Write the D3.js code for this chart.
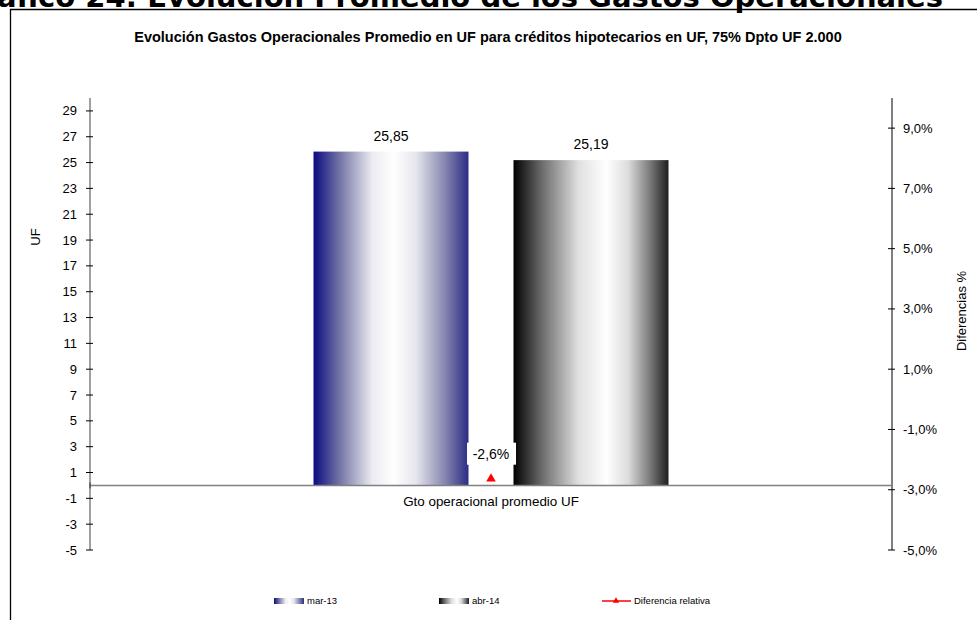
<!DOCTYPE html>
<html>
<head>
<meta charset="utf-8">
<script src="https://cdn.jsdelivr.net/npm/d3@7"></script>
<style>
    html, body { margin: 0; padding: 0; background: #fff; }
    svg { display: block; font-family: "Liberation Sans", Arial, sans-serif; }
</style>
</head>
<body>
<svg id="chart" width="977" height="620"></svg>
<script>
'use strict';

/* global d3 */

var HEADER = "Gráfico 24: Evolución Promedio de los Gastos Operacionales";
var TITLE = "Evolución Gastos Operacionales Promedio en UF para créditos hipotecarios en UF, 75% Dpto UF 2.000";

var CATEGORIES = ["Gto operacional promedio UF"];
var SERIES = ["mar-13", "abr-14"];
var VALUES = [25.85, 25.19];
var DIFF_NAME = "Diferencia relativa";
var DIFF_VALUES = [-2.6];

var LEFT_TICKS = [-5, -3, -1, 1, 3, 5, 7, 9, 11, 13, 15, 17, 19, 21, 23, 25, 27, 29];
var RIGHT_TICKS = [-5, -3, -1, 1, 3, 5, 7, 9];

var svg = d3.select("#chart");

var plot = {left: 90, right: 892, top: 98, bottom: 550};

var locale = d3.formatLocale({decimal: ",", thousands: ".", grouping: [3], currency: ["$", ""], minus: "-"});
var fmtValue = locale.format(".2f");
var fmtPct = locale.format(".1f");

var yLeft = d3.scaleLinear().domain([-5, 30]).range([plot.bottom, plot.top]);
var yRight = d3.scaleLinear().domain([-5, 10]).range([plot.bottom, plot.top]);

var x0 = d3.scaleBand().domain(CATEGORIES).range([plot.left, plot.right]);
var x1 = d3.scaleBand().domain(SERIES).range([0, x0.bandwidth()])
    .paddingInner(0.225).paddingOuter(1.1175);

// gradients, like the excel "center" fill
var defs = svg.append("defs");
var GRADIENTS = [
    {id: "grad0", stops: [["0%", "#0b0b80"], ["18%", "#7a7aa8"], ["38%", "#ececf2"], ["52%", "#ffffff"], ["66%", "#e6e6ee"], ["84%", "#8a8ab2"], ["100%", "#2c2c84"]]},
    {id: "grad1", stops: [["0%", "#000000"], ["18%", "#6a6a6a"], ["42%", "#e0e0e0"], ["60%", "#ffffff"], ["74%", "#dcdcdc"], ["88%", "#7a7a7a"], ["100%", "#1e1e1e"]]}
];
GRADIENTS.forEach(function (g) {
    var lg = defs.append("linearGradient").attr("id", g.id)
        .attr("x1", "0%").attr("x2", "100%").attr("y1", "0%").attr("y2", "0%");
    g.stops.forEach(function (s) {
        lg.append("stop").attr("offset", s[0]).attr("stop-color", s[1]);
    });
});

// header cut off at the top of the page (as in the source)
svg.append("text")
    .attr("x", 943).attr("y", 7)
    .attr("text-anchor", "end")
    .style("font-family", "'DejaVu Sans', Verdana, sans-serif")
    .style("font-weight", "bold")
    .style("font-size", "29px")
    .text(HEADER);

// chart frame
svg.append("path")
    .attr("d", "M10.5,620 L10.5,9.5 L977,9.5")
    .attr("fill", "none")
    .attr("stroke", "#000")
    .attr("stroke-width", 1.3);

svg.append("text")
    .attr("x", 488).attr("y", 42)
    .attr("text-anchor", "middle")
    .style("font-weight", "bold")
    .style("font-size", "14.5px")
    .text(TITLE);

// bars
var bars = svg.append("g").attr("class", "bars");
CATEGORIES.forEach(function (cat) {
    SERIES.forEach(function (s, i) {
        var bx = x0(cat) + x1(s);
        bars.append("rect")
            .attr("x", bx)
            .attr("y", yLeft(VALUES[i]))
            .attr("width", x1.bandwidth())
            .attr("height", yLeft(0) - yLeft(VALUES[i]))
            .attr("fill", "url(#" + GRADIENTS[i].id + ")");
        bars.append("text")
            .attr("x", bx + x1.bandwidth() / 2)
            .attr("y", yLeft(VALUES[i]) - 11)
            .attr("text-anchor", "middle")
            .style("font-size", "14px")
            .text(fmtValue(VALUES[i]));
    });
});

// left axis
var gLeft = svg.append("g").attr("class", "axis-left");
gLeft.append("line")
    .attr("x1", plot.left).attr("x2", plot.left)
    .attr("y1", plot.top).attr("y2", plot.bottom)
    .attr("stroke", "#808080").attr("stroke-width", 1.5);
gLeft.selectAll("line.tick").data(LEFT_TICKS).enter()
    .append("line").attr("class", "tick")
    .attr("x1", plot.left - 4).attr("x2", plot.left + 3)
    .attr("y1", function (d) { return yLeft(d); })
    .attr("y2", function (d) { return yLeft(d); })
    .attr("stroke", "#000");
gLeft.selectAll("text").data(LEFT_TICKS).enter()
    .append("text")
    .attr("x", 77)
    .attr("y", function (d) { return yLeft(d); })
    .attr("dy", "0.35em")
    .attr("text-anchor", "end")
    .style("font-size", "13px")
    .text(function (d) { return locale.format("d")(d); });

// right axis
var gRight = svg.append("g").attr("class", "axis-right");
gRight.append("line")
    .attr("x1", plot.right).attr("x2", plot.right)
    .attr("y1", plot.top).attr("y2", plot.bottom)
    .attr("stroke", "#000").attr("stroke-width", 1);
gRight.selectAll("line.tick").data(RIGHT_TICKS).enter()
    .append("line").attr("class", "tick")
    .attr("x1", plot.right - 4).attr("x2", plot.right + 3)
    .attr("y1", function (d) { return yRight(d); })
    .attr("y2", function (d) { return yRight(d); })
    .attr("stroke", "#000");
gRight.selectAll("text").data(RIGHT_TICKS).enter()
    .append("text")
    .attr("x", 903)
    .attr("y", function (d) { return yRight(d); })
    .attr("dy", "0.35em")
    .style("font-size", "13px")
    .text(function (d) { return fmtPct(d) + "%"; });

// category axis at zero
svg.append("line")
    .attr("x1", plot.left).attr("x2", plot.right)
    .attr("y1", yLeft(0)).attr("y2", yLeft(0))
    .attr("stroke", "#808080").attr("stroke-width", 1.5);
svg.append("line")
    .attr("x1", plot.left).attr("x2", plot.left)
    .attr("y1", yLeft(0) - 3).attr("y2", yLeft(0) + 3)
    .attr("stroke", "#333");

svg.selectAll("text.cat").data(CATEGORIES).enter()
    .append("text").attr("class", "cat")
    .attr("x", function (d) { return x0(d) + x0.bandwidth() / 2; })
    .attr("y", yLeft(0) + 21)
    .attr("text-anchor", "middle")
    .style("font-size", "13.4px")
    .text(function (d) { return d; });

// axis titles
svg.append("text")
    .attr("transform", "translate(40,237) rotate(-90)")
    .attr("text-anchor", "middle")
    .style("font-size", "13px")
    .text("UF");
svg.append("text")
    .attr("transform", "translate(966,311) rotate(-90)")
    .attr("text-anchor", "middle")
    .style("font-size", "13px")
    .text("Diferencias %");

// relative difference marker
var triangle = d3.symbol().type(d3.symbolTriangle).size(40);
CATEGORIES.forEach(function (cat, i) {
    var cx = x0(cat) + x0.bandwidth() / 2;
    var cy = yRight(DIFF_VALUES[i]);
    var lbl = fmtPct(DIFF_VALUES[i]) + "%";
    svg.append("rect")
        .attr("x", cx - 24).attr("y", cy - 35)
        .attr("width", 49).attr("height", 22)
        .attr("fill", "#fff");
    svg.append("text")
        .attr("x", cx).attr("y", cy - 24)
        .attr("dy", "0.35em")
        .attr("text-anchor", "middle")
        .style("font-size", "14px")
        .text(lbl);
    svg.append("path")
        .attr("d", triangle())
        .attr("transform", "translate(" + cx + "," + (cy + 1) + ")")
        .attr("fill", "#ff0000");
});

// legend
var legendY = 601;
var gLegend = svg.append("g").attr("class", "legend");
var LEGEND_X = [274, 439];
SERIES.forEach(function (s, i) {
    gLegend.append("rect")
        .attr("x", LEGEND_X[i]).attr("y", legendY - 3)
        .attr("width", 30).attr("height", 6)
        .attr("fill", "url(#" + GRADIENTS[i].id + ")");
    gLegend.append("text")
        .attr("x", LEGEND_X[i] + 33).attr("y", legendY)
        .attr("dy", "0.35em")
        .style("font-size", "9.5px")
        .text(s);
});
gLegend.append("line")
    .attr("x1", 602).attr("x2", 631)
    .attr("y1", legendY).attr("y2", legendY)
    .attr("stroke", "#ff0000").attr("stroke-width", 1.5);
gLegend.append("path")
    .attr("d", d3.symbol().type(d3.symbolTriangle).size(18)())
    .attr("transform", "translate(616," + legendY + ")")
    .attr("fill", "#ff0000");
gLegend.append("text")
    .attr("x", 634).attr("y", legendY)
    .attr("dy", "0.35em")
    .style("font-size", "9.5px")
    .text(DIFF_NAME);
</script>
</body>
</html>
